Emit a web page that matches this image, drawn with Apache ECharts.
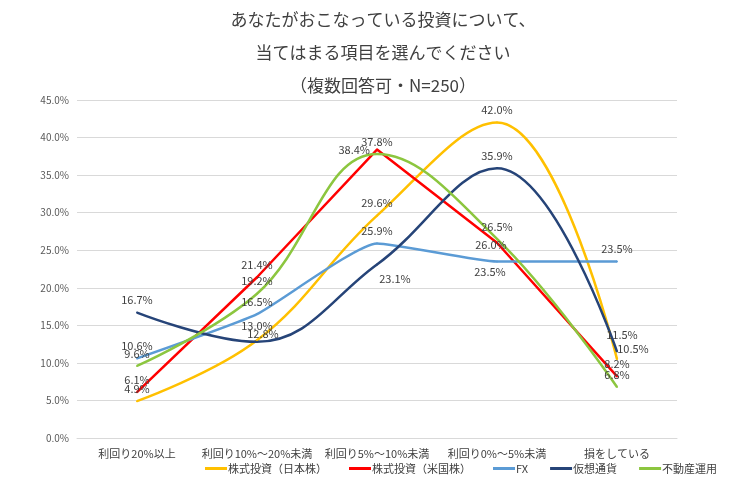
<!DOCTYPE html>
<html>
<head>
<meta charset="utf-8">
<script src="https://cdn.jsdelivr.net/npm/echarts@6/dist/echarts.min.js"></script>
<style>
  html, body { margin: 0; padding: 0; background: #fff; }
  #chart { width: 739px; height: 481px; }
</style>
</head>
<body>
<div id="chart"></div>
<script>
  const categories = ['利回り20%以上', '利回り10%～20%未満', '利回り5%～10%未満', '利回り0%～5%未満', '損をしている']
  const seriesNames = ['株式投資（日本株）', '株式投資（米国株）', 'FX', '仮想通貨', '不動産運用']
  const japanStock = [4.9, 13.0, 29.6, 42.0, 10.5]
  const usStock = [6.1, 21.4, 38.4, 26.0, 8.2]
  const fx = [10.6, 16.5, 25.9, 23.5, 23.5]
  const crypto = [16.7, 12.8, 23.1, 35.9, 11.5]
  const realEstate = [9.6, 19.2, 37.8, 26.5, 6.8]

  // label placement per point (style only); arrays = pixel shift of label centre from the point
  const labelPos = [
    ['top', [0, -15], 'top', 'top', [16, -10]],
    ['top', 'top', 'left', [-6, 2], 'top'],
    ['top', 'top', 'top', [-7, 10], 'top'],
    ['top', [6, -8], [18, 14], 'top', [5, -17]],
    ['top', 'top', 'top', 'top', 'top']
  ]
  const colors = ['#FFC000', '#FF0000', '#5B9BD5', '#264478', '#8CC63F']
  const smooths = [0.4, false, 0.15, 0.4, 0.4]
  const allData = [japanStock, usStock, fx, crypto, realEstate]

  const chart = echarts.init(document.getElementById('chart'))
  const font = '"Noto Sans CJK JP", "Noto Sans", sans-serif'

  function pointLabel(pos) {
    if (typeof pos === 'string') return { position: pos }
    return { position: [pos[0] + 1, pos[1] + 1], align: 'center', verticalAlign: 'middle' }
  }

  chart.setOption({
    animation: false,
    textStyle: { fontFamily: font },
    title: {
      text: 'あなたがおこなっている投資について、\n当てはまる項目を選んでください\n（複数回答可・N=250）',
      left: 378,
      textAlign: 'center',
      top: -2,
      textStyle: { fontSize: 17, fontWeight: 'normal', color: '#404040', lineHeight: 33, fontFamily: font }
    },
    grid: { left: 77, right: 62, top: 100, bottom: 43 },
    legend: {
      data: seriesNames,
      bottom: 2,
      left: 200,
      itemWidth: 22,
      itemHeight: 3,
      itemGap: 22,
      icon: 'rect',
      textStyle: { fontSize: 11, color: '#404040', padding: [0, 0, 0, -4] }
    },
    xAxis: {
      type: 'category',
      data: categories,
      axisLine: { lineStyle: { color: '#d9d9d9' } },
      axisTick: { show: false },
      axisLabel: { color: '#404040', fontSize: 11, margin: 10, interval: 0 }
    },
    yAxis: {
      type: 'value',
      min: 0,
      max: 45,
      interval: 5,
      axisLabel: { color: '#595959', fontSize: 10, formatter: v => v.toFixed(1) + '%' },
      splitLine: { lineStyle: { color: '#d9d9d9' } }
    },
    series: allData.map((vals, i) => ({
      name: seriesNames[i],
      type: 'line',
      smooth: smooths[i],
      symbol: 'circle',
      symbolSize: 2,
      showSymbol: true,
      itemStyle: { color: colors[i] },
      color: colors[i],
      lineStyle: { width: 2.5, color: colors[i] },
      data: vals.map((v, j) => ({
        value: v,
        label: pointLabel(labelPos[i][j])
      })),
      label: {
        show: true,
        fontSize: 11,
        color: '#404040',
        distance: 6,
        formatter: p => p.value.toFixed(1) + '%'
      },
      labelLayout: { hideOverlap: false }
    }))
  })
</script>
</body>
</html>
